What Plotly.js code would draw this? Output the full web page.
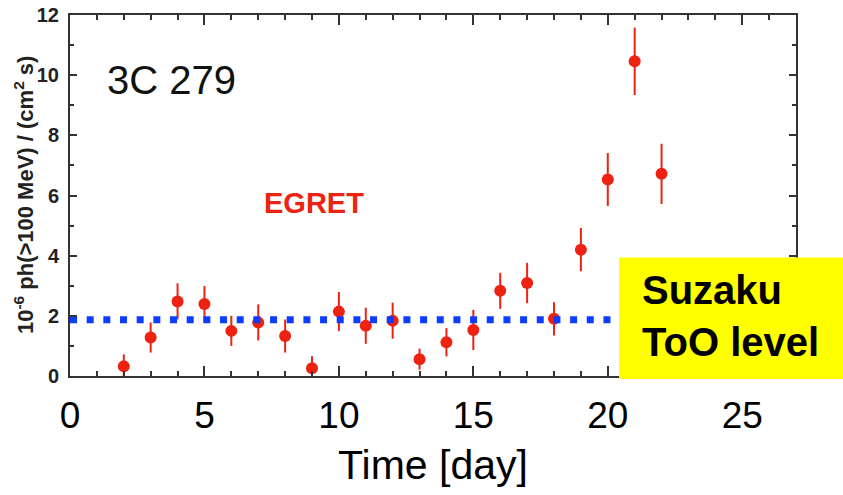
<!DOCTYPE html>
<html>
<head>
<meta charset="utf-8">
<script src="https://cdn.plot.ly/plotly-3.0.1.min.js"></script>
<style>html,body{margin:0;padding:0;background:#fff;}#chart{width:843px;height:495px;}</style>
</head>
<body>
<div id="chart"></div>
<script>
// Data
const days = [2, 3, 4, 5, 6, 7, 8, 9, 10, 11, 12, 13, 14, 15, 16, 17, 18, 19, 20, 21, 22];
const flux = [0.32, 1.28, 2.48, 2.39, 1.50, 1.78, 1.33, 0.26, 2.14, 1.67, 1.84, 0.56, 1.12, 1.53, 2.83, 3.09, 1.90, 4.20, 6.53, 10.46, 6.72];
const fluxErr = [0.40, 0.50, 0.60, 0.60, 0.50, 0.60, 0.55, 0.40, 0.65, 0.60, 0.60, 0.35, 0.47, 0.67, 0.60, 0.67, 0.55, 0.72, 0.88, 1.12, 1.00];
const tooLevelX = [0, 27];
const tooLevel = [1.87, 1.87];
const xTicks = [0, 5, 10, 15, 20, 25];
const yTicks = [0, 2, 4, 6, 8, 10, 12];

const RED = '#ee2211';
const BLUE = '#0b3cff';
const sans = 'Liberation Sans, Arial, sans-serif';

const traces = [
  {
    x: days, y: flux, type: 'scatter', mode: 'markers',
    marker: {color: RED, size: 12, line: {width: 0}},
    error_y: {type: 'data', array: fluxErr, visible: true, color: RED, thickness: 2, width: 0},
    showlegend: false, hoverinfo: 'x+y'
  },
  {
    x: tooLevelX, y: tooLevel, type: 'scatter', mode: 'lines',
    line: {color: BLUE, width: 7, dash: '7px,9.67px'},
    showlegend: false, hoverinfo: 'y'
  }
];

const layout = {
  width: 843, height: 495,
  margin: {l: 70, r: 47, t: 15, b: 119, autoexpand: false},
  paper_bgcolor: '#ffffff', plot_bgcolor: '#ffffff',
  showlegend: false,
  xaxis: {
    range: [0, 27], autorange: false, fixedrange: true,
    tickvals: xTicks, ticktext: xTicks.map(String),
    ticks: 'inside', ticklen: 10, tickwidth: 2, tickcolor: '#333',
    minor: {dtick: 1, tick0: 0, ticks: 'inside', ticklen: 5, tickwidth: 2, tickcolor: '#333'},
    showline: true, linecolor: '#333', linewidth: 2, mirror: 'allticks',
    showgrid: false, zeroline: false,
    tickfont: {family: sans, size: 37, color: '#000'},
    ticklabelstandoff: 6,
    title: {text: 'Time [day]', font: {family: sans, size: 41, color: '#000'}, standoff: 15},
    automargin: false
  },
  xaxis2: {
    range: [0, 27], autorange: false, fixedrange: true,
    overlaying: 'x', anchor: 'y', side: 'bottom',
    tickvals: xTicks, showticklabels: false,
    ticks: 'outside', ticklen: 8, tickwidth: 2, tickcolor: '#333',
    minor: {dtick: 1, tick0: 0, ticks: 'outside', ticklen: 6, tickwidth: 2, tickcolor: '#333'},
    showline: false, showgrid: false, zeroline: false
  },
  yaxis: {
    range: [0, 12], autorange: false, fixedrange: true,
    tickvals: yTicks, ticktext: yTicks.map(String),
    ticks: 'inside', ticklen: 7, tickwidth: 2, tickcolor: '#333',
    minor: {dtick: 1, tick0: 0, ticks: 'inside', ticklen: 4, tickwidth: 2, tickcolor: '#333'},
    showline: true, linecolor: '#333', linewidth: 2, mirror: 'allticks',
    showgrid: false, zeroline: false,
    tickfont: {family: sans, size: 20, color: '#222', weight: 'bold'},
    ticklabelstandoff: 5,
    automargin: false
  },
  shapes: [
    {type: 'rect', xref: 'paper', yref: 'paper', x0: 0.7562, x1: 1.1, y0: -0.0083, y1: 0.3286,
     fillcolor: '#ffff00', line: {width: 0}, layer: 'above'}
  ],
  annotations: [
    {text: '10<sup>-6</sup> ph(>100 MeV) / (cm<sup>2</sup> s)', xref: 'paper', yref: 'paper',
     x: -0.064, y: 0.5, xanchor: 'center', yanchor: 'middle', textangle: -90, showarrow: false,
     font: {family: sans, size: 22, color: '#222', weight: 'bold'}},
    {text: '3C 279', xref: 'x', yref: 'y', x: 3.76, y: 9.85, xanchor: 'center', yanchor: 'middle',
     showarrow: false, font: {family: sans, size: 40, color: '#111'}},
    {text: 'EGRET', xref: 'x', yref: 'y', x: 9.08, y: 5.75, xanchor: 'center', yanchor: 'middle',
     showarrow: false, font: {family: sans, size: 29, color: RED, weight: 'bold'}},
    {text: 'Suzaku<br>ToO level', xref: 'paper', yref: 'paper', x: 0.785, y: 0.1667,
     xanchor: 'left', yanchor: 'middle', align: 'left', showarrow: false,
     font: {family: sans, size: 40, color: '#000', weight: 'bold'}}
  ]
};

Plotly.newPlot('chart', traces, layout, {staticPlot: true, displayModeBar: false});
</script>
</body>
</html>
